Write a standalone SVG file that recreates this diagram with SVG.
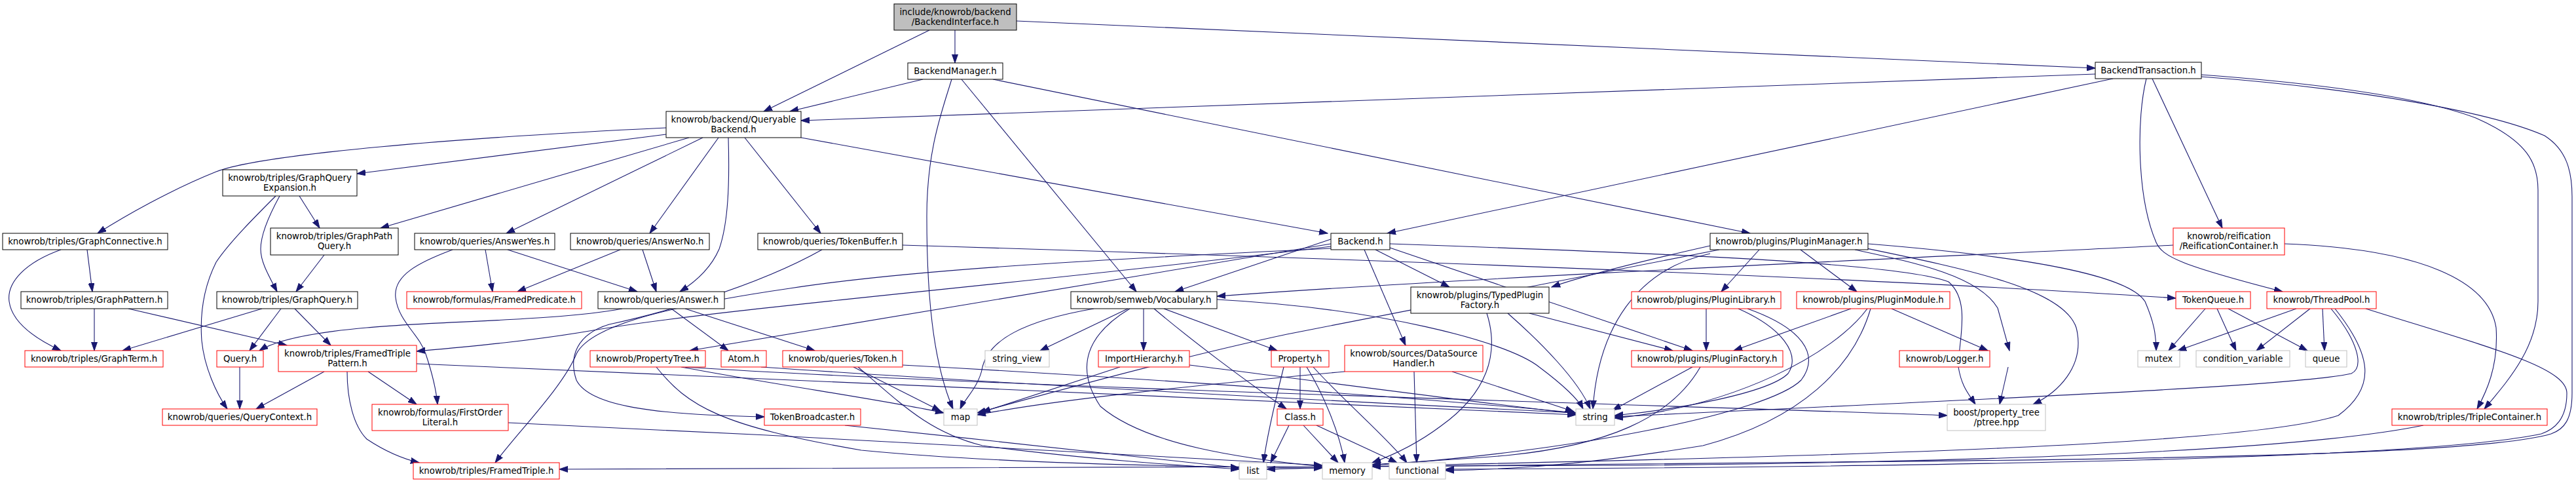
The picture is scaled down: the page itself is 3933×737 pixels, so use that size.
<svg xmlns="http://www.w3.org/2000/svg" width="3933" height="737" viewBox="0 0 3933 737">
<style>
rect{fill:#fff;stroke:#000;stroke-width:1}
rect.r{stroke:#ff0000}
rect.g{stroke:#bfbfbf}
rect.root{fill:#bfbfbf;stroke:#000}
text{font-family:'DejaVu Sans',sans-serif;font-size:13.3px;fill:#000;text-anchor:middle}
#edges path{fill:none;stroke:#191970;stroke-width:1.1;marker-end:url(#a)}
</style>
<defs>
<marker id="a" markerWidth="14" markerHeight="10" refX="13" refY="5" orient="auto" markerUnits="userSpaceOnUse"><path d="M0,0.5 L13,5 L0,9.5 z" fill="#191970" stroke="#191970" stroke-width="1"/></marker>
</defs>
<rect x="0" y="0" width="3933" height="737" style="fill:#fff;stroke:none"/>
<g id="edges">
<path d="M1458,46 L1458,96"/>
<path d="M1419,46 L1166,170"/>
<path d="M1552,32 L3199,104"/>
<path d="M1409,121 L1206,170"/>
<path d="M1453,121 C1438,170 1415,230 1415,330 C1415,480 1430,565 1455,624"/>
<path d="M1468,121 L1735,445"/>
<path d="M1516,121 L2672,356"/>
<path d="M3199,113 L1223,184"/>
<path d="M3226,120 L2118,356"/>
<path d="M3277,120 C3262,180 3262,300 3292,370 C3302,392 3330,405 3485,445"/>
<path d="M3286,120 L3393,348"/>
<path d="M3361,114 C3550,128 3700,150 3780,180 C3860,215 3875,250 3875,290 L3875,460 C3875,530 3830,580 3793,624"/>
<path d="M3361,117 C3600,135 3800,170 3885,207 C3918,228 3927,260 3927,300 L3927,600 C3927,640 3915,655 3895,662 C3800,690 3400,700 2800,705 L2095,712"/>
<path d="M1017,195 C700,210 400,235 330,262 C260,290 190,330 149,356"/>
<path d="M1017,205 L545,265"/>
<path d="M1052,210 L581,348"/>
<path d="M1073,210 L773,356"/>
<path d="M1097,210 L992,356"/>
<path d="M1112,210 C1114,280 1112,340 1098,380 C1085,410 1062,430 1038,445"/>
<path d="M1137,210 L1253,356"/>
<path d="M1223,210 L2027,356"/>
<path d="M457,299 L488,348"/>
<path d="M427,299 C410,330 398,360 398,380 C398,400 410,420 423,445"/>
<path d="M421,299 C390,330 350,370 330,400 C310,440 305,480 308,520 C312,560 330,600 347,624"/>
<path d="M93,381 C40,400 10,430 14,460 C18,490 50,515 93,535"/>
<path d="M133,381 L141,445"/>
<path d="M495,389 L452,445"/>
<path d="M144,471 L144,535"/>
<path d="M196,471 L438,527"/>
<path d="M400,471 L187,535"/>
<path d="M429,471 L381,535"/>
<path d="M450,471 L505,527"/>
<path d="M366,560 L366,624"/>
<path d="M495,567 L391,624"/>
<path d="M562,567 L636,617"/>
<path d="M530,567 C530,610 540,650 560,670 C590,690 615,700 640,706"/>
<path d="M636,555 C1200,578 1900,612 2406,633"/>
<path d="M691,381 C640,400 600,420 604,454 C608,490 640,510 650,540 C660,570 666,595 668,617"/>
<path d="M741,381 L752,445"/>
<path d="M775,381 L973,445"/>
<path d="M947,381 L790,445"/>
<path d="M981,381 L1002,445"/>
<path d="M1255,381 C1150,440 1000,480 930,495 C880,510 868,545 880,580 C900,620 1000,633 1167,636"/>
<path d="M1378,374 C1900,390 2800,420 3322,455"/>
<path d="M950,471 C850,490 660,490 560,500 C470,508 420,520 396,535"/>
<path d="M1025,471 L1112,535"/>
<path d="M1046,471 L1244,535"/>
<path d="M2032,365 L1794,445"/>
<path d="M2032,372 L1053,535"/>
<path d="M2032,376 C1600,430 1100,470 900,505 C800,522 700,530 636,536"/>
<path d="M2032,379 C1700,395 1400,410 1206,440 C1000,470 900,500 880,540 C860,590 790,660 756,706"/>
<path d="M2083,381 L2146,527"/>
<path d="M2100,381 L2213,438"/>
<path d="M2122,378 L2584,535"/>
<path d="M2122,372 C2500,385 2900,400 2975,430 C3010,460 2990,520 2990,560 C2995,590 3005,600 3016,617"/>
<path d="M1670,471 C1560,490 1510,520 1500,560 C1495,590 1472,610 1466,624"/>
<path d="M1722,471 L1588,535"/>
<path d="M1746,471 L1746,535"/>
<path d="M1777,471 L1950,535"/>
<path d="M1762,471 C1820,520 1900,580 1964,624"/>
<path d="M1725,471 C1660,510 1640,560 1680,620 C1750,680 1900,700 2019,712"/>
<path d="M1858,457 C2100,470 2300,520 2350,560 C2390,590 2410,610 2417,624"/>
<path d="M1710,560 L1499,629"/>
<path d="M1816,557 C2000,580 2300,620 2406,631"/>
<path d="M1985,560 L1985,624"/>
<path d="M1960,560 C1950,600 1935,660 1929,706"/>
<path d="M1995,560 C2020,600 2045,660 2053,706"/>
<path d="M2005,560 C2050,610 2120,670 2148,706"/>
<path d="M1968,649 L1940,706"/>
<path d="M1990,649 L2043,706"/>
<path d="M2010,649 L2133,706"/>
<path d="M2159,567 L2163,706"/>
<path d="M2217,567 L2403,628"/>
<path d="M2053,567 C1800,590 1600,612 1492,633"/>
<path d="M2335,478 L2554,535"/>
<path d="M2302,478 C2350,520 2410,580 2428,624"/>
<path d="M2270,478 C2290,540 2270,600 2200,650 C2160,680 2120,697 2095,706"/>
<path d="M2611,375 C2500,400 2420,420 2369,438"/>
<path d="M2686,381 L2628,445"/>
<path d="M2749,381 L2835,445"/>
<path d="M2832,381 C2920,400 3020,420 3050,470 L3068,535"/>
<path d="M2840,377 C3000,410 3150,440 3170,500 C3185,560 3140,600 3104,617"/>
<path d="M2852,372 C3100,392 3250,420 3275,460 C3288,490 3292,510 3292,535"/>
<path d="M2625,381 L1965,510 C1800,545 1600,600 1492,630"/>
<path d="M2611,387 C2500,410 2440,500 2432,624"/>
<path d="M2605,471 L2605,535"/>
<path d="M2654,471 C2720,500 2750,540 2730,570 C2700,600 2560,625 2465,634"/>
<path d="M2668,471 C2750,500 2780,540 2750,580 C2700,630 2400,690 2095,710"/>
<path d="M2826,471 L2647,535"/>
<path d="M2888,471 L3035,535"/>
<path d="M2851,471 C2800,540 2650,620 2465,638"/>
<path d="M2856,471 C2830,560 2750,640 2600,680 C2400,712 2300,716 2207,718"/>
<path d="M2584,560 L2462,626"/>
<path d="M2596,560 C2550,640 2450,680 2300,695 C2200,703 2120,707 2095,709"/>
<path d="M3066,560 L3053,617"/>
<path d="M3367,471 L3311,535"/>
<path d="M3385,471 L3414,535"/>
<path d="M3402,471 L3523,535"/>
<path d="M3506,471 L3325,535"/>
<path d="M3527,471 L3445,535"/>
<path d="M3546,471 L3549,535"/>
<path d="M3559,471 C3600,520 3610,560 3590,570 C3500,590 3000,610 2465,636"/>
<path d="M3565,471 C3620,540 3630,590 3570,634 C3400,690 2500,700 1934,716"/>
<path d="M3612,471 C3800,530 3919,560 3919,600 C3919,640 3900,655 3880,662 C3700,700 3000,712 2207,716"/>
<path d="M3488,372 C3700,380 3800,430 3811,500 C3815,560 3795,600 3782,624"/>
<path d="M3318,374 C3000,390 2300,420 1858,452"/>
<path d="M3700,649 C3500,690 3000,705 2500,710 L854,716"/>
<path d="M1046,560 C1500,590 2600,620 2973,634"/>
<path d="M1040,560 C1200,590 1350,610 1441,630"/>
<path d="M1303,560 L1436,627"/>
<path d="M1310,560 C1380,620 1420,660 1500,680 C1650,700 1800,710 1892,716"/>
<path d="M1378,557 C1800,580 2200,610 2406,630"/>
<path d="M1162,560 C1600,590 2100,615 2406,630"/>
<path d="M1290,649 C1500,670 1750,700 1892,714"/>
<path d="M776,645 C1200,665 1700,690 2019,710"/>
<path d="M1002,560 C1050,620 1100,650 1315,687 C1500,705 1750,712 2019,714"/>
</g>
<g id="n_BI"><rect class="root" x="1365" y="6" width="187" height="40"/><text x="1458.5" y="23">include/knowrob/backend</text><text x="1458.5" y="38">/BackendInterface.h</text></g>
<g id="n_BM"><rect x="1386" y="96" width="145" height="25"/><text x="1458.5" y="113">BackendManager.h</text></g>
<g id="n_BT"><rect x="3199" y="95" width="162" height="25"/><text x="3280" y="112">BackendTransaction.h</text></g>
<g id="n_QB"><rect x="1017" y="170" width="206" height="40"/><text x="1120" y="187">knowrob/backend/Queryable</text><text x="1120" y="202">Backend.h</text></g>
<g id="n_GQE"><rect x="340" y="259" width="205" height="40"/><text x="442.5" y="276">knowrob/triples/GraphQuery</text><text x="442.5" y="291">Expansion.h</text></g>
<g id="n_GC"><rect x="4" y="356" width="252" height="25"/><text x="130" y="373">knowrob/triples/GraphConnective.h</text></g>
<g id="n_GPQ"><rect x="413" y="348" width="195" height="41"/><text x="510.5" y="365">knowrob/triples/GraphPath</text><text x="510.5" y="380">Query.h</text></g>
<g id="n_AY"><rect x="633" y="356" width="214" height="25"/><text x="740" y="373">knowrob/queries/AnswerYes.h</text></g>
<g id="n_AN"><rect x="871" y="356" width="212" height="25"/><text x="977" y="373">knowrob/queries/AnswerNo.h</text></g>
<g id="n_TB"><rect x="1157" y="356" width="221" height="25"/><text x="1267.5" y="373">knowrob/queries/TokenBuffer.h</text></g>
<g id="n_BE"><rect x="2032" y="356" width="90" height="25"/><text x="2077" y="373">Backend.h</text></g>
<g id="n_PM"><rect x="2611" y="356" width="241" height="25"/><text x="2731.5" y="373">knowrob/plugins/PluginManager.h</text></g>
<g id="n_RC"><rect class="r" x="3318" y="348" width="170" height="41"/><text x="3403" y="365">knowrob/reification</text><text x="3403" y="380">/ReificationContainer.h</text></g>
<g id="n_GPat"><rect x="32" y="445" width="224" height="26"/><text x="144" y="462">knowrob/triples/GraphPattern.h</text></g>
<g id="n_GQ"><rect x="331" y="445" width="215" height="26"/><text x="438.5" y="462">knowrob/triples/GraphQuery.h</text></g>
<g id="n_FP"><rect class="r" x="621" y="445" width="267" height="26"/><text x="754.5" y="462">knowrob/formulas/FramedPredicate.h</text></g>
<g id="n_AH"><rect x="913" y="445" width="193" height="26"/><text x="1009.5" y="462">knowrob/queries/Answer.h</text></g>
<g id="n_VOC"><rect x="1635" y="445" width="223" height="26"/><text x="1746.5" y="462">knowrob/semweb/Vocabulary.h</text></g>
<g id="n_TPF"><rect x="2154" y="438" width="211" height="40"/><text x="2259.5" y="455">knowrob/plugins/TypedPlugin</text><text x="2259.5" y="470">Factory.h</text></g>
<g id="n_PL"><rect class="r" x="2491" y="445" width="228" height="26"/><text x="2605" y="462">knowrob/plugins/PluginLibrary.h</text></g>
<g id="n_PMod"><rect class="r" x="2743" y="445" width="234" height="26"/><text x="2860" y="462">knowrob/plugins/PluginModule.h</text></g>
<g id="n_TQ"><rect class="r" x="3322" y="445" width="114" height="26"/><text x="3379" y="462">TokenQueue.h</text></g>
<g id="n_TP"><rect class="r" x="3461" y="445" width="167" height="26"/><text x="3544.5" y="462">knowrob/ThreadPool.h</text></g>
<g id="n_GT"><rect class="r" x="38" y="535" width="211" height="25"/><text x="143.5" y="552">knowrob/triples/GraphTerm.h</text></g>
<g id="n_QH"><rect class="r" x="331" y="535" width="71" height="25"/><text x="366.5" y="552">Query.h</text></g>
<g id="n_FTP"><rect class="r" x="425" y="527" width="211" height="40"/><text x="530.5" y="544">knowrob/triples/FramedTriple</text><text x="530.5" y="559">Pattern.h</text></g>
<g id="n_PT"><rect class="r" x="901" y="535" width="176" height="25"/><text x="989" y="552">knowrob/PropertyTree.h</text></g>
<g id="n_AT"><rect class="r" x="1101" y="535" width="69" height="25"/><text x="1135.5" y="552">Atom.h</text></g>
<g id="n_TK"><rect class="r" x="1195" y="535" width="183" height="25"/><text x="1286.5" y="552">knowrob/queries/Token.h</text></g>
<g id="n_SV"><rect class="g" x="1504" y="535" width="98" height="25"/><text x="1553" y="552">string_view</text></g>
<g id="n_IH"><rect class="r" x="1677" y="535" width="139" height="25"/><text x="1746.5" y="552">ImportHierarchy.h</text></g>
<g id="n_PR"><rect class="r" x="1941" y="535" width="88" height="25"/><text x="1985" y="552">Property.h</text></g>
<g id="n_DSH"><rect class="r" x="2053" y="527" width="211" height="40"/><text x="2158.5" y="544">knowrob/sources/DataSource</text><text x="2158.5" y="559">Handler.h</text></g>
<g id="n_PF"><rect class="r" x="2491" y="535" width="231" height="25"/><text x="2606.5" y="552">knowrob/plugins/PluginFactory.h</text></g>
<g id="n_LG"><rect class="r" x="2900" y="535" width="138" height="25"/><text x="2969" y="552">knowrob/Logger.h</text></g>
<g id="n_MX"><rect class="g" x="3264" y="535" width="64" height="25"/><text x="3296" y="552">mutex</text></g>
<g id="n_CV"><rect class="g" x="3353" y="535" width="143" height="25"/><text x="3424.5" y="552">condition_variable</text></g>
<g id="n_QU"><rect class="g" x="3520" y="535" width="63" height="25"/><text x="3551.5" y="552">queue</text></g>
<g id="n_QC"><rect class="r" x="248" y="624" width="236" height="25"/><text x="366" y="641">knowrob/queries/QueryContext.h</text></g>
<g id="n_FOL"><rect class="r" x="568" y="617" width="208" height="40"/><text x="672" y="634">knowrob/formulas/FirstOrder</text><text x="672" y="649">Literal.h</text></g>
<g id="n_TBC"><rect class="r" x="1167" y="624" width="147" height="25"/><text x="1240.5" y="641">TokenBroadcaster.h</text></g>
<g id="n_MAP"><rect class="g" x="1441" y="624" width="51" height="25"/><text x="1466.5" y="641">map</text></g>
<g id="n_CL"><rect class="r" x="1950" y="624" width="70" height="25"/><text x="1985" y="641">Class.h</text></g>
<g id="n_STR"><rect class="g" x="2406" y="624" width="59" height="25"/><text x="2435.5" y="641">string</text></g>
<g id="n_PTREE"><rect class="g" x="2973" y="617" width="150" height="40"/><text x="3048" y="634">boost/property_tree</text><text x="3048" y="649">/ptree.hpp</text></g>
<g id="n_TC"><rect class="r" x="3652" y="624" width="237" height="25"/><text x="3770.5" y="641">knowrob/triples/TripleContainer.h</text></g>
<g id="n_FT"><rect class="r" x="631" y="706" width="223" height="25"/><text x="742.5" y="723">knowrob/triples/FramedTriple.h</text></g>
<g id="n_LIST"><rect class="g" x="1892" y="706" width="42" height="25"/><text x="1913" y="723">list</text></g>
<g id="n_MEM"><rect class="g" x="2019" y="706" width="76" height="25"/><text x="2057" y="723">memory</text></g>
<g id="n_FUN"><rect class="g" x="2121" y="706" width="86" height="25"/><text x="2164" y="723">functional</text></g>
</svg>
